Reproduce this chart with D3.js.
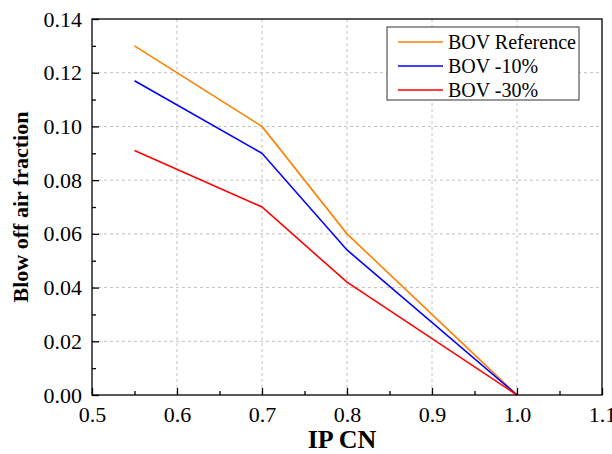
<!DOCTYPE html>
<html><head><meta charset="utf-8">
<script src="https://cdn.jsdelivr.net/npm/d3@7"></script>
<style>body{margin:0;background:#fff}svg{display:block}text{font-family:"Liberation Serif","Times New Roman",serif}</style>
</head><body><svg id="c" width="612" height="454"></svg>
<script>
const xValues = [0.55, 0.7, 0.8, 1.0];
const seriesNames = ["BOV Reference", "BOV -10%", "BOV -30%"];
const bovReference = [0.130, 0.100, 0.060, 0.000];
const bov10 = [0.117, 0.090, 0.054, 0.000];
const bov30 = [0.091, 0.070, 0.042, 0.000];
const xTicks = [0.5, 0.6, 0.7, 0.8, 0.9, 1.0, 1.1];
const yTicks = [0, 0.02, 0.04, 0.06, 0.08, 0.10, 0.12, 0.14];
const colors = ["#ff8000", "#0000ff", "#ff0000"];

const svg = d3.select("#c");
const L = 92, R = 602, T = 19, B = 395;
const x = d3.scaleLinear().domain([0.5, 1.1]).range([L, R]);
const y = d3.scaleLinear().domain([0, 0.14]).range([B, T]);

// grid
const g = svg.append("g");
g.selectAll(".gx").data(xTicks.slice(1, -1)).join("line")
  .attr("x1", d => x(d)).attr("x2", d => x(d)).attr("y1", T).attr("y2", B)
  .attr("stroke", "#c0c0c0").attr("stroke-dasharray", "3,3").attr("stroke-width", 1);
g.selectAll(".gy").data(yTicks.slice(1, -1)).join("line")
  .attr("y1", d => y(d)).attr("y2", d => y(d)).attr("x1", L).attr("x2", R)
  .attr("stroke", "#c0c0c0").attr("stroke-dasharray", "3,3").attr("stroke-width", 1);

// lines
const data = [bovReference, bov10, bov30];
const line = d3.line().x((d, i) => x(xValues[i])).y(d => y(d));
data.forEach((s, k) => {
  svg.append("path").attr("d", line(s)).attr("fill", "none")
    .attr("stroke", colors[k]).attr("stroke-width", 1.6);
});

// frame
svg.append("rect").attr("x", L).attr("y", T).attr("width", R - L).attr("height", B - T)
  .attr("fill", "none").attr("stroke", "#000").attr("stroke-width", 1.3);

// axes with inner ticks
const xAxis = d3.axisBottom(x).tickValues(xTicks).tickFormat(d3.format(".1f")).tickSize(-7).tickPadding(11);
svg.append("g").attr("transform", `translate(0,${B})`).call(xAxis);
const xMinor = d3.axisBottom(x).tickValues(d3.range(0.55, 1.1, 0.1)).tickFormat("").tickSize(-4);
svg.append("g").attr("transform", `translate(0,${B})`).call(xMinor);
const yAxis = d3.axisLeft(y).tickValues(yTicks).tickFormat(d3.format(".2f")).tickSize(-7).tickPadding(10);
svg.append("g").attr("transform", `translate(${L},0)`).call(yAxis);
const yMinor = d3.axisLeft(y).tickValues(d3.range(0.01, 0.14, 0.02)).tickFormat("").tickSize(-4);
svg.append("g").attr("transform", `translate(${L},0)`).call(yMinor);
svg.selectAll(".domain").remove();
svg.selectAll(".tick line").attr("stroke", "#000").attr("stroke-width", 1.3);
svg.selectAll(".tick text").attr("font-size", 22).attr("fill", "#000")
  .attr("font-family", "Liberation Serif, serif");

// axis titles
svg.append("text").attr("x", 342).attr("y", 448).attr("text-anchor", "middle")
  .attr("font-size", 26).attr("font-weight", "bold").text("IP CN");
svg.append("text").attr("transform", `translate(28,207) rotate(-90)`)
  .attr("text-anchor", "middle").attr("font-size", 22).attr("font-weight", "bold")
  .text("Blow off air fraction");

// legend
const lg = svg.append("g");
lg.append("rect").attr("x", 387).attr("y", 27).attr("width", 192).attr("height", 73)
  .attr("fill", "#fff").attr("stroke", "#333").attr("stroke-width", 1);
seriesNames.forEach((n, i) => {
  const yy = 42 + i * 24;
  lg.append("line").attr("x1", 398).attr("x2", 443).attr("y1", yy).attr("y2", yy)
    .attr("stroke", colors[i]).attr("stroke-width", 1.6);
  lg.append("text").attr("x", 448).attr("y", yy + 7).attr("font-size", 20).text(n);
});
</script></body></html>
